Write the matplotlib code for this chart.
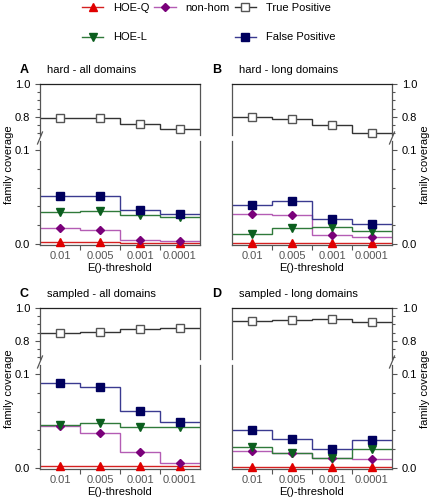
import matplotlib
matplotlib.use('Agg')
import matplotlib.pyplot as plt
from matplotlib.lines import Line2D
import numpy as np

plt.rcParams['font.family'] = ['Liberation Sans', 'DejaVu Sans']

thresholds = ['0.01', '0.005', '0.001', '0.0001']

# panel A: hard - all domains
a_tp = [0.796, 0.796, 0.758, 0.724]
a_fp = [0.0514, 0.0514, 0.0358, 0.0315]
a_hoel = [0.0335, 0.0352, 0.0303, 0.0282]
a_nonhom = [0.0162, 0.0148, 0.0035, 0.0025]
a_hoeq = [0.0014, 0.0014, 0.0010, 0.0008]

# panel B: hard - long domains
b_tp = [0.802, 0.790, 0.753, 0.700]
b_fp = [0.0418, 0.0456, 0.0263, 0.0210]
b_hoel = [0.0105, 0.0168, 0.0175, 0.0133]
b_nonhom = [0.0316, 0.0305, 0.0088, 0.0074]
b_hoeq = [0.0005, 0.0005, 0.0005, 0.0005]

# panel C: sampled - all domains
c_tp = [0.850, 0.854, 0.874, 0.876]
c_fp = [0.0904, 0.0864, 0.0607, 0.0493]
c_hoel = [0.0457, 0.0482, 0.0436, 0.0439]
c_nonhom = [0.0446, 0.0371, 0.0168, 0.0054]
c_hoeq = [0.0018, 0.0018, 0.0018, 0.0015]

# panel D: sampled - long domains
d_tp = [0.920, 0.928, 0.932, 0.915]
d_fp = [0.0404, 0.0305, 0.0204, 0.0291]
d_hoel = [0.0218, 0.0158, 0.0105, 0.0204]
d_nonhom = [0.0182, 0.0158, 0.0100, 0.0088]
d_hoeq = [0.0003, 0.0003, 0.0003, 0.0003]

panels = [
    ('A', 'hard - all domains', a_tp, a_fp, a_hoel, a_nonhom, a_hoeq),
    ('B', 'hard - long domains', b_tp, b_fp, b_hoel, b_nonhom, b_hoeq),
    ('C', 'sampled - all domains', c_tp, c_fp, c_hoel, c_nonhom, c_hoeq),
    ('D', 'sampled - long domains', d_tp, d_fp, d_hoel, d_nonhom, d_hoeq),
]

# series styles: (line colour, marker, marker face, marker edge, size)
st_hoeq = ('#d42020', '^', '#e00000', '#e00000', 6)
st_hoel = ('#2f7a3a', 'v', '#0b5e1e', '#0b5e1e', 6)
st_nonhom = ('#b45cb4', 'D', '#7a007a', '#7a007a', 4.5)
st_tp = ('#333333', 's', 'white', '#555555', 6)
st_fp = ('#3a3a90', 's', '#00005e', '#00005e', 6)

W, H = 431, 500
fig = plt.figure(figsize=(W / 100, H / 100), dpi=100)
spine_col = '#555555'


def fr(x0, y_top, w, h):
    return [x0 / W, 1 - (y_top + h) / H, w / W, h / H]


def series(ax, vals, style):
    lc, mk, mf, me, ms = style
    edges = np.arange(len(vals) + 1) - 0.5
    ax.stairs(vals, edges, baseline=None, color=lc, lw=1.0, zorder=2)
    ax.plot(np.arange(len(vals)), vals, ls='none', marker=mk, mfc=mf, mec=me,
            ms=ms, mew=1.0, zorder=3, clip_on=False)


# pixel layout of the four panels: (left, top of upper axes, right side labels)
layout = {'A': (40, 84, False), 'B': (232, 84, True),
          'C': (40, 308, False), 'D': (232, 308, True)}

for letter, title, tp, fp, hoel, nonhom, hoeq in panels:
    x0, top, right = layout[letter]
    ax_t = fig.add_axes(fr(x0, top, 160, 51))
    ax_b = fig.add_axes(fr(x0, top + 57, 160, 104))

    series(ax_t, tp, st_tp)
    for vals, st in [(hoeq, st_hoeq), (nonhom, st_nonhom), (hoel, st_hoel), (fp, st_fp)]:
        series(ax_b, vals, st)

    for ax in (ax_t, ax_b):
        ax.set_xlim(-0.5, 3.5)
        for s in ax.spines.values():
            s.set_color(spine_col)
            s.set_linewidth(0.9)
        ax.tick_params(colors=spine_col, labelcolor='black', labelsize=8,
                       direction='out', length=3.5, width=0.8)
        ax.tick_params(which='minor', colors=spine_col, length=2.5, width=0.8)
        if right:
            ax.yaxis.tick_right()

    ax_t.set_ylim(0.69, 1.0)
    ax_t.set_yticks([0.8, 1.0])
    ax_t.set_yticklabels(['0.8', '1.0'])
    ax_t.set_yticks(np.arange(0.7, 1.0, 0.05), minor=True)
    ax_t.spines['bottom'].set_visible(False)
    ax_t.spines['top'].set_color('#222222')
    ax_t.set_xticks([])

    ax_b.set_ylim(-0.0015, 0.11)
    ax_b.set_yticks([0.0, 0.1])
    ax_b.set_yticklabels(['0.0', '0.1'])
    ax_b.set_yticks(np.arange(0.02, 0.1, 0.02), minor=True)
    ax_b.spines['top'].set_visible(False)
    ax_b.set_xticks([0.5, 1.5, 2.5])
    ax_b.set_xticklabels([])
    ax_b.set_xticks(range(len(thresholds)), minor=True)
    ax_b.set_xticklabels(thresholds, minor=True)
    ax_b.tick_params(axis='x', which='minor', length=0, pad=4, labelsize=8)
    ax_b.set_xlabel('E()-threshold', fontsize=8, labelpad=2)

    # break mark on the labelled spine
    bx = x0 + 160 if right else x0
    fig.add_artist(Line2D([(bx - 2.5) / W, (bx + 2.5) / W],
                          [1 - (top + 60) / H, 1 - (top + 48) / H],
                          color=spine_col, lw=0.9))

    # panel letter and title
    fig.text((x0 - 20) / W, 1 - (top - 14) / H, letter, fontsize=9,
             fontweight='bold', va='center', ha='left')
    fig.text((x0 + 7) / W, 1 - (top - 14) / H, title, fontsize=8,
             va='center', ha='left')

    lx = 425 if right else 9
    fig.text(lx / W, 1 - (top + 81) / H, 'family coverage', fontsize=8,
             rotation=90, va='center', ha='center')

# legend at the top
def handle(style, label):
    lc, mk, mf, me, ms = style
    return Line2D([], [], color=lc, lw=1.0, marker=mk, mfc=mf, mec=me,
                  ms=ms, mew=1.0, label=label)

blank = Line2D([], [], color='none', label=' ')
handles = [handle(st_hoeq, 'HOE-Q'), handle(st_hoel, 'HOE-L'),
           handle(st_nonhom, 'non-hom'), blank,
           handle(st_tp, 'True Positive'), handle(st_fp, 'False Positive')]
fig.legend(handles=handles, ncol=3, loc='upper left',
           bbox_to_anchor=(72 / W, 1 + 7 / H), frameon=False, fontsize=8,
           handlelength=1.9, handletextpad=0.9, columnspacing=0.45,
           labelspacing=1.75)

fig.savefig('out.png', dpi=100)
